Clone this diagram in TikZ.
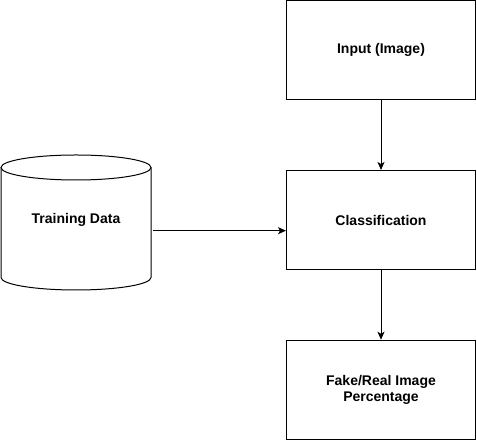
\documentclass[tikz,border=0pt]{standalone}
\usepackage{fontspec}
\setmainfont{Liberation Sans}
\usetikzlibrary{arrows.meta}
\begin{document}
\begin{tikzpicture}[x=1pt,y=1pt,
  box/.style={draw=black,line width=1pt,minimum width=189pt,minimum height=99.5pt,inner sep=0pt,align=center,
    font=\fontsize{14}{16.8}\selectfont\bfseries},
  lbl/.style={inner sep=0pt,align=center,font=\fontsize{14}{16.8}\selectfont\bfseries},
  conn/.style={draw=black,line width=1pt,-{Stealth[length=8pt,width=7pt,inset=2pt]}}]
\useasboundingbox (0,0) rectangle (477,441);
% boxes
\node[box] (inp) at (381,390.75) {Input (Image)};
\node[box] (cls) at (381,220.75) {Classification};
\node[box] (out) at (381,51) {Fake/Real Image\\Percentage};
% cylinder
\draw[line width=1pt] (76,273.5) ellipse [x radius=75, y radius=12.5];
\draw[line width=1pt] (1,273.5) -- (1,163.5) arc[start angle=180, end angle=360, x radius=75, y radius=12.5] -- (151,273.5);
\node[lbl] (td) at (76,221) {Training Data};
\coordinate (tdout) at (153,210.3);
% connectors
\draw[conn] (inp.south) -- (cls.north);
\draw[conn] (cls.south) -- (out.north);
\draw[conn] (tdout) -- (cls.west |- tdout);
\end{tikzpicture}
\end{document}
